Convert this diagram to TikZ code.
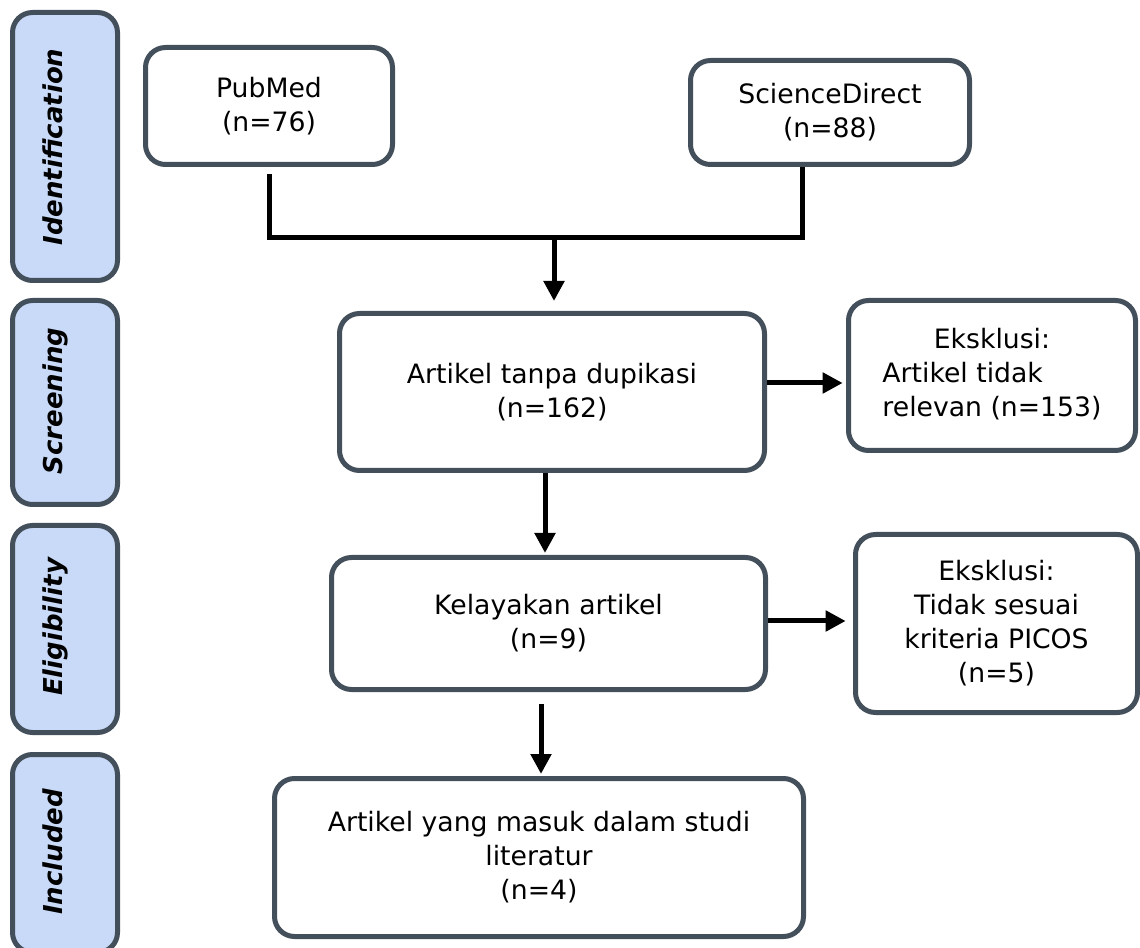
\documentclass[tikz,border=0pt]{standalone}
\usepackage{fontspec}
\setmainfont{DejaVu Sans}
\usetikzlibrary{arrows.meta,calc}
\definecolor{bord}{HTML}{434F5A}
\definecolor{sidefill}{HTML}{C9DAF8}
\begin{document}
\begin{tikzpicture}[x=0.75pt,y=-0.75pt,
  sz/.style 2 args={minimum width=#1*0.75pt, minimum height=#2*0.75pt},
  box/.style={draw=bord, line width=3.75pt, rounded corners=15pt, inner sep=0pt,
    align=center, fill=white, font=\fontsize{20}{25.5}\selectfont},
  sidebox/.style={draw=bord, line width=3.75pt, rounded corners=15pt, fill=sidefill, inner sep=0pt},
  lab/.style={rotate=90, anchor=base, inner sep=0pt, font=\fontsize{19.5}{22}\selectfont\bfseries\itshape},
  conn/.style={line width=3.75pt, black},
  arr/.style={conn, -{Triangle[width=15pt,length=15pt]}}
]
\useasboundingbox (0,0) rectangle (1140,948);
\clip (0,0) rectangle (1140,948);

% phase side bars
\node[sidebox, sz={105}{268}] (idf) at (65,146.5) {};
\node[sidebox, sz={105}{204}] (scr) at (65,402.5) {};
\node[sidebox, sz={105}{207}] (elg) at (65,629) {};
\node[sidebox, sz={105}{198}] (incs) at (65,853.5) {};
\node[lab] (lidf) at (62,147) {Identification};
\node[lab] (lscr) at (62,401) {Screening};
\node[lab] (lelg) at (62,627) {Eligibility};
\node[lab] (lincs) at (62,852) {Included};

% boxes
\node[box, sz={247}{117}] (pub) at (269,106) {PubMed\\(n=76)};
\node[box, sz={279}{104}] (sci) at (830,112.5) {ScienceDirect\\(n=88)};
\node[box, sz={425}{157}] (art) at (552,392) {Artikel tanpa dupikasi\\(n=162)};
\node[box, sz={287}{150}] (ex1) at (992,375.5)
  {\begin{tabular}{@{}l@{}}\multicolumn{1}{@{}c@{}}{Eksklusi:}\\Artikel tidak\\relevan (n=153)\end{tabular}};
\node[box, sz={434}{132}] (kel) at (548.5,623.5) {Kelayakan artikel\\(n=9)};
\node[box, sz={282}{178}] (ex2) at (996.5,623.5) {Eksklusi:\\Tidak sesuai\\kriteria PICOS\\(n=5)};
\node[box, sz={529}{158}] (inc) at (539,857.5) {Artikel yang masuk dalam studi\\literatur\\(n=4)};

% connectors
\coordinate (mj) at (554,238);
\draw[conn] ($(pub.south)+(0,7.5)$) |- (mj) -| ($(sci.south)+(-28,0)$);
\draw[arr, shorten >=7.5pt] (mj) -- (mj |- art.north);
\draw[arr, shorten >=2.5pt] ($(art.east)+(0,-9)$) -- ($(ex1.west)+(0,7.5)$);
\draw[arr, shorten >=1.5pt] ($(art.south)+(-7,0)$) -- ($(kel.north)+(-3.5,0)$);
\draw[arr, shorten >=5.5pt] ($(kel.east)+(0,-2.5)$) -- ($(ex2.west)+(0,-2.5)$);
\draw[arr, shorten >=1.5pt] ($(kel.south)+(-7.5,12)$) -- ($(inc.north)+(2,0)$);
\end{tikzpicture}
\end{document}
